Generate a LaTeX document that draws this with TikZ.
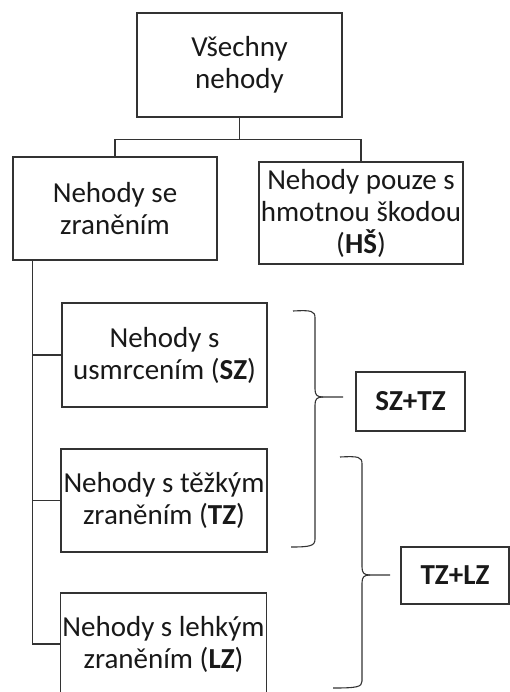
\documentclass[tikz,border=0pt]{standalone}
\usepackage{fontspec}
\setmainfont{Carlito}
\begin{document}
\begin{tikzpicture}[x=1pt,y=-1pt,
  box/.style={draw=black!80, line width=1.4pt, align=center, inner sep=0pt,
    text=black!90, font=\fontsize{29}{32}\selectfont},
  link/.style={draw=black!80, line width=1.1pt},
  brace/.style={draw=black!80, line width=1.1pt}]
\useasboundingbox (0,0) rectangle (510,692);
\clip (0,0) rectangle (510,692);
\fill[white] (0,0) rectangle (510,692);

\node[box, minimum width=205pt, minimum height=104pt] (all) at (239.5,65) {Všechny\\nehody};
\node[box, minimum width=204pt, minimum height=103pt] (inj) at (115,208.5) {Nehody se\\zraněním};
\node[box, minimum width=204pt, minimum height=102pt] (hs) at (361,213) {Nehody pouze s\\hmotnou škodou\\(\textbf{HŠ})};
\node[box, minimum width=205pt, minimum height=104pt] (sz) at (164.5,355) {Nehody s\\usmrcením (\textbf{SZ})};
\node[box, minimum width=206pt, minimum height=103pt] (tz) at (164,500.5) {Nehody s těžkým\\zraněním (\textbf{TZ})};
\node[box, minimum width=206pt, minimum height=102pt] (lz) at (163.5,644) {Nehody s lehkým\\zraněním (\textbf{LZ})};
\node[box, minimum width=109pt, minimum height=59pt] (sztz) at (410.5,401.5) {\textbf{SZ+TZ}};
\node[box, minimum width=108pt, minimum height=57pt] (tzlz) at (455,575.5) {\textbf{TZ+LZ}};

% tree connectors
\draw[link] (all.south) -- ++(0,22) -| (inj.north);
\draw[link] (all.south) -- ++(0,22) -| (hs.north);
\coordinate (trunk) at ([xshift=20pt]inj.south west);
\draw[link] (trunk) |- (lz.west);
\draw[link] (trunk |- sz.west) -- (sz.west);
\draw[link] (trunk |- tz.west) -- (tz.west);

% braces
\coordinate (tip1) at (343,397);
\coordinate (tip2) at (390,575);
\draw[brace] (293,311) .. controls (312,310) and (315,311) .. (315,318)
  -- (315,389) .. controls (315,395) and (317,397) .. (323,397) -- (tip1);
\draw[brace] (323,397) .. controls (317,397) and (315,399) .. (315,405)
  -- (315,539) .. controls (315,546) and (310,547) .. (291,547);
\draw[brace] (340,457) .. controls (359,456) and (362,457) .. (362,464)
  -- (362,567) .. controls (362,573) and (364,575) .. (370,575) -- (tip2);
\draw[brace] (370,575) .. controls (364,575) and (362,577) .. (362,583)
  -- (362,681) .. controls (362,687) and (357,688) .. (333,688);
\end{tikzpicture}
\end{document}
